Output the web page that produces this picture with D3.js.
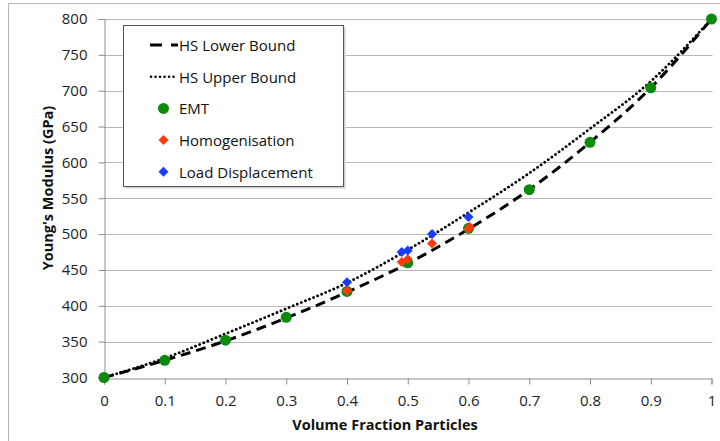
<!DOCTYPE html>
<html><head><meta charset="utf-8">
<script src="https://cdn.jsdelivr.net/npm/d3@7"></script>
<style>body{margin:0;background:#fff;}svg{display:block;}</style>
</head><body>
<svg id="c" width="720" height="441"></svg>
<script>
// ---- data ----
const fractions = [0,0.1,0.2,0.3,0.4,0.5,0.6,0.7,0.8,0.9,1];
const hsLower = [300,324,351,383,419,459,507,562,628,704,800];
const hsUpper = [300,327,361,396,432,478,530,585,647,713,800];
const emtY    = [300,324,352,384,420,460,508,562,628,704,800];
const homX = [0.4,0.49,0.5,0.54,0.6,0.602];
const homY = [421,461,465,487,507,510];
const ldX  = [0.4,0.49,0.5,0.54,0.6];
const ldY  = [433,475,477,500,524];
const xTicks = [0,0.1,0.2,0.3,0.4,0.5,0.6,0.7,0.8,0.9,1];
const yTicks = [300,350,400,450,500,550,600,650,700,750,800];
const legendLabels = ["HS Lower Bound","HS Upper Bound","EMT","Homogenisation","Load Displacement"];

const FONT = "'Open Sans', sans-serif";
const svg = d3.select("#c");
const x = d3.scaleLinear().domain([0,1]).range([104,711.5]);
const y = d3.scaleLinear().domain([300,800]).range([377.5,19]);

// frame
svg.append("rect").attr("x",8.5).attr("y",3.5).attr("width",760).attr("height",500)
  .attr("fill","#fff").attr("stroke","#b5b5b5");

// gridlines
svg.append("g").selectAll("line").data(yTicks.slice(1)).join("line")
  .attr("x1",x(0)).attr("x2",x(1)+1).attr("y1",d=>Math.round(y(d))+0.5).attr("y2",d=>Math.round(y(d))+0.5)
  .attr("stroke","#b8b8b8").attr("stroke-width",1);

// axes
const gy = svg.append("g").attr("transform",`translate(${Math.round(x(0))+0.5},0)`)
  .call(d3.axisLeft(y).tickValues(yTicks).tickSize(6).tickPadding(11).tickFormat(d3.format("d")));
const gx = svg.append("g").attr("transform",`translate(0,${Math.round(y(300))+0.5})`)
  .call(d3.axisBottom(x).tickValues(xTicks).tickSize(6).tickPadding(11).tickFormat(d=>d===0?"0":d===1?"1":d3.format(".1f")(d)));
[gx,gy].forEach(g=>{
  g.select(".domain").attr("stroke","#8c8c8c");
  g.selectAll(".tick line").attr("stroke","#8c8c8c");
  g.selectAll("text").attr("font-family",FONT).attr("font-size",15).attr("fill","#222");
});

// titles
svg.append("text").attr("x",385).attr("y",424).attr("text-anchor","middle").attr("dominant-baseline","central")
  .attr("font-family",FONT).attr("font-size",14.5).attr("font-weight","bold").attr("fill","#111")
  .text("Volume Fraction Particles");
svg.append("text").attr("transform","translate(47,188) rotate(-90)").attr("text-anchor","middle")
  .attr("dominant-baseline","central")
  .attr("font-family",FONT).attr("font-size",14.5).attr("font-weight","bold").attr("fill","#111")
  .text("Young's Modulus (GPa)");

// lines
const line = d3.line().x(d=>x(d[0])).y(d=>y(d[1])).curve(d3.curveMonotoneX);
svg.append("path").datum(fractions.map((f,i)=>[f,hsLower[i]])).attr("d",line)
  .attr("fill","none").attr("stroke","#000").attr("stroke-width",3).attr("stroke-dasharray","10,6");
svg.append("path").datum(fractions.map((f,i)=>[f,hsUpper[i]])).attr("d",line)
  .attr("fill","none").attr("stroke","#000").attr("stroke-width",2.8).attr("stroke-linecap","round")
  .attr("stroke-dasharray","0.1,4.3");

// markers
const GREEN="#0b8a0b", RED="#ff3a0a", BLUE="#1a3cff";
svg.append("g").selectAll("circle").data(fractions.map((f,i)=>[f,emtY[i]])).join("circle")
  .attr("cx",d=>x(d[0])).attr("cy",d=>y(d[1])).attr("r",5.5).attr("fill",GREEN);
const diamond = d3.symbol(d3.symbolSquare,50);
svg.append("g").selectAll("path").data(homX.map((v,i)=>[v,homY[i]])).join("path")
  .attr("d",diamond).attr("transform",d=>`translate(${x(d[0])},${y(d[1])}) rotate(45)`).attr("fill",RED);
svg.append("g").selectAll("path").data(ldX.map((v,i)=>[v,ldY[i]])).join("path")
  .attr("d",diamond).attr("transform",d=>`translate(${x(d[0])},${y(d[1])}) rotate(45)`).attr("fill",BLUE);

// legend
const lg = svg.append("g");
lg.append("rect").attr("x",125.5).attr("y",27.5).attr("width",220).attr("height",161).attr("fill","#d0d0d0");
lg.append("rect").attr("x",123.5).attr("y",25.5).attr("width",220).attr("height",161)
  .attr("fill","#fff").attr("stroke","#555");
const ly = i => 45 + i*31.7;
lg.append("line").attr("x1",150).attr("x2",178).attr("y1",ly(0)).attr("y2",ly(0))
  .attr("stroke","#000").attr("stroke-width",3).attr("stroke-dasharray","12,9");
lg.append("line").attr("x1",151).attr("x2",178).attr("y1",ly(1)).attr("y2",ly(1))
  .attr("stroke","#000").attr("stroke-width",2.5).attr("stroke-linecap","round").attr("stroke-dasharray","0.1,4.4");
lg.append("circle").attr("cx",163.5).attr("cy",ly(2)).attr("r",5.5).attr("fill",GREEN);
lg.append("path").attr("d",diamond).attr("transform",`translate(163.5,${ly(3)}) rotate(45)`).attr("fill",RED);
lg.append("path").attr("d",diamond).attr("transform",`translate(163.5,${ly(4)}) rotate(45)`).attr("fill",BLUE);
lg.selectAll("text.l").data(legendLabels).join("text").attr("class","l")
  .attr("x",179).attr("y",(d,i)=>ly(i)).attr("dominant-baseline","central")
  .attr("font-family",FONT).attr("font-size",15).attr("fill","#111").text(d=>d);
</script>
</body></html>
